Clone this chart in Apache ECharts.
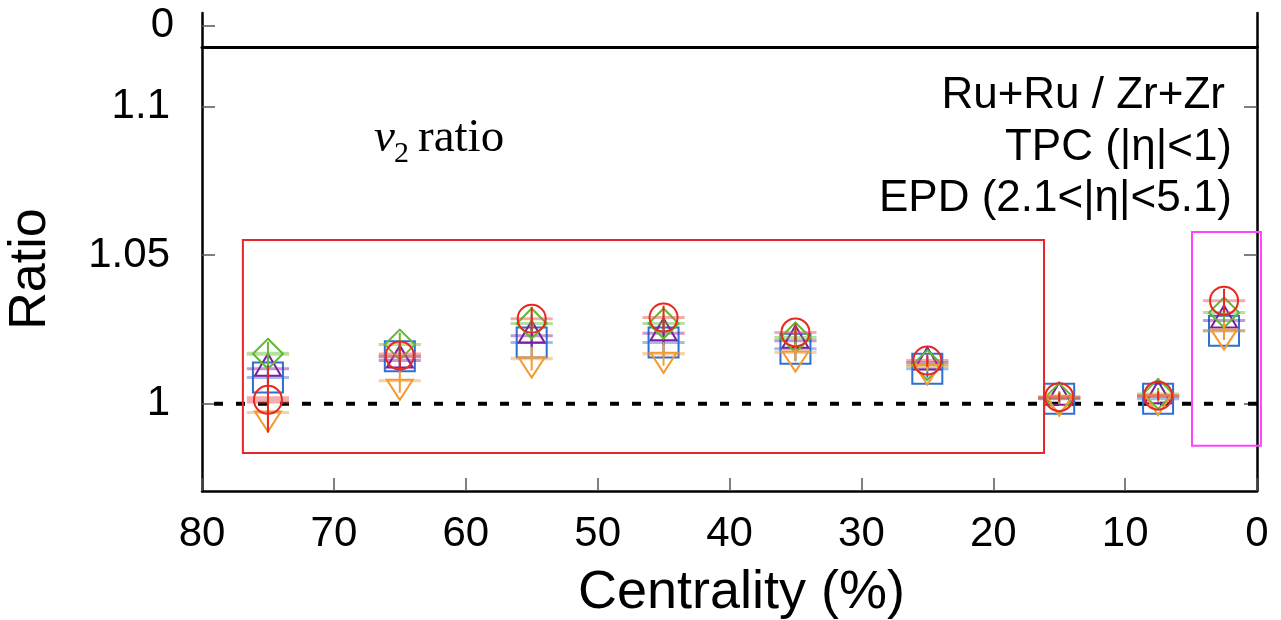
<!DOCTYPE html>
<html><head><meta charset="utf-8">
<script src="https://cdn.jsdelivr.net/npm/echarts@6/dist/echarts.min.js"></script>
<style>html,body{margin:0;padding:0;background:#fff}#c{width:1281px;height:620px}</style>
</head><body><div id="c"></div>
<script>
// ---- data ----
const centrality = [75, 65, 55, 45, 35, 25, 15, 7.5, 2.5];
const xTickValues = [80, 70, 60, 50, 40, 30, 20, 10, 0];
const yTickValues = [1, 1.05, 1.1];
const upperTickValues = [0];

const blueVals   = [1.0088, 1.0160, 1.0206, 1.0206, 1.0185, 1.0118, 1.0017, 1.0017, 1.0246];
const blueErr    = [0.0060, 0.0050, 0.0050, 0.0050, 0.0040, 0.0030, 0.0020, 0.0020, 0.0030];
const blueSys    = [0.0004, 0.0004, 0.0004, 0.0004, 0.0004, 0.0004, 0.0004, 0.0004, 0.0004];

const purpleVals = [1.0118, 1.0145, 1.0229, 1.0237, 1.0212, 1.0139, 1.0020, 1.0025, 1.0280];
const purpleErr  = [0.0050, 0.0040, 0.0040, 0.0040, 0.0030, 0.0020, 0.0020, 0.0020, 0.0030];
const purpleSys  = [0.0004, 0.0004, 0.0004, 0.0004, 0.0004, 0.0004, 0.0004, 0.0004, 0.0004];

const greenVals  = [1.0168, 1.0199, 1.0270, 1.0270, 1.0223, 1.0130, 1.0018, 1.0033, 1.0307];
const greenErr   = [0.0040, 0.0040, 0.0030, 0.0030, 0.0030, 0.0020, 0.0020, 0.0020, 0.0030];
const greenSys   = [0.0007, 0.0005, 0.0005, 0.0005, 0.0005, 0.0005, 0.0005, 0.0005, 0.0005];

const orangeVals = [0.9970, 1.0077, 1.0152, 1.0168, 1.0172, 1.0128, 1.0023, 1.0025, 1.0246];
const orangeErr  = [0.0040, 0.0040, 0.0040, 0.0040, 0.0030, 0.0020, 0.0020, 0.0020, 0.0030];
const orangeSys  = [0.0004, 0.0004, 0.0006, 0.0006, 0.0005, 0.0004, 0.0004, 0.0004, 0.0005];

const redVals    = [1.0013, 1.0162, 1.0286, 1.0290, 1.0240, 1.0145, 1.0022, 1.0027, 1.0347];
const redErr     = [0.0110, 0.0050, 0.0040, 0.0040, 0.0030, 0.0020, 0.0015, 0.0015, 0.0040];
const redSys     = [0.0012, 0.0010, 0.0005, 0.0005, 0.0005, 0.0004, 0.0004, 0.0004, 0.0005];

const refLine = [[0, 1], [80, 1]];
// annotation boxes: [xLeft, yTop, xRight, yBottom] in data units
const redBox = [[76.9, 1.0551, 16.15, 0.9834]];
const magentaBox = [[4.93, 1.0578, -0.3, 0.9858]];

const sysHalfWidth = 1.6;

// ---- rendering ----
function pts(vals, errs, syss) {
  return centrality.map((c, i) => [c, vals[i], errs[i], syss[i]]);
}

function markerShape(shape, cx, cy) {
  switch (shape) {
    case 'square': return {type: 'rect', shape: {x: cx - 15, y: cy - 15, width: 30, height: 30}};
    case 'circle': return {type: 'circle', shape: {cx: cx, cy: cy, r: 14}};
    case 'tri': return {type: 'polygon', shape: {points: [[cx, cy - 15], [cx + 13, cy + 7], [cx - 13, cy + 7]]}};
    case 'diamond': return {type: 'polygon', shape: {points: [[cx, cy - 15], [cx + 15, cy], [cx, cy + 15], [cx - 15, cy]]}};
    case 'itri': return {type: 'polygon', shape: {points: [[cx - 13, cy - 1], [cx + 13, cy - 1], [cx, cy + 19]]}};
  }
}

function makeRender(shape, color, fill) {
  return function (params, api) {
    const x = api.value(0), y = api.value(1), e = api.value(2), s = api.value(3);
    const c = api.coord([x, y]);
    const t = api.coord([x, y + e]);
    const b = api.coord([x, y - e]);
    const l = api.coord([x + sysHalfWidth, y + s]);
    const r = api.coord([x - sysHalfWidth, y - s]);
    const h = Math.max(Math.abs(r[1] - l[1]), 3);
    const m = markerShape(shape, c[0], c[1]);
    m.style = {fill: 'none', stroke: color, lineWidth: 2};
    return {
      type: 'group',
      children: [
        {type: 'rect', shape: {x: Math.min(l[0], r[0]), y: c[1] - h / 2, width: Math.abs(r[0] - l[0]), height: h},
         style: {fill: fill}},
        {type: 'line', shape: {x1: c[0], y1: t[1], x2: c[0], y2: b[1]}, style: {stroke: color, lineWidth: 2}},
        m
      ]
    };
  };
}

function boxRender(color) {
  return function (params, api) {
    const p1 = api.coord([api.value(0), api.value(1)]);
    const p2 = api.coord([api.value(2), api.value(3)]);
    return {type: 'rect', shape: {x: Math.min(p1[0], p2[0]), y: Math.min(p1[1], p2[1]),
      width: Math.abs(p2[0] - p1[0]), height: Math.abs(p2[1] - p1[1])},
      style: {fill: 'none', stroke: color, lineWidth: 2}};
  };
}

const FONT = "'Liberation Sans', Arial, Helvetica, sans-serif";
const SERIF = "'Liberation Serif', 'Times New Roman', serif";
const tickFont = 42;
const lineAx = {show: true, onZero: false, lineStyle: {color: '#000', width: 2.5}};

const chart = echarts.init(document.getElementById('c'), null, {renderer: 'canvas'});
chart.setOption({
  backgroundColor: '#fff',
  animation: false,
  grid: [
    {left: 202, top: 47, width: 1055, height: 444, containLabel: false, outerBoundsMode: 'none'},
    {left: 202, top: 13, width: 1055, height: 34, containLabel: false, outerBoundsMode: 'none'}
  ],
  xAxis: [
    {type: 'value', gridIndex: 0, min: 0, max: 80, interval: 10, inverse: true, position: 'bottom',
     axisLine: lineAx,
     axisTick: {show: true, inside: true, length: 13, lineStyle: {color: '#555', width: 1.5}},
     axisLabel: {show: true, margin: 22, fontSize: tickFont, color: '#000', fontFamily: FONT},
     splitLine: {show: false},
     name: 'Centrality (%)', nameLocation: 'middle', nameGap: 75,
     nameTextStyle: {fontSize: 54, color: '#000', fontFamily: FONT, padding: [0, 0, 0, 24]}},
    {type: 'value', gridIndex: 1, min: 0, max: 80, inverse: true, position: 'bottom',
     axisLine: {show: true, onZero: false, lineStyle: {color: '#000', width: 3}},
     axisTick: {show: false}, axisLabel: {show: false}, splitLine: {show: false}}
  ],
  yAxis: [
    {type: 'value', gridIndex: 0, min: 0.9706, max: 1.1201, position: 'left',
     axisLine: lineAx,
     axisTick: {show: true, inside: true, length: 13, customValues: yTickValues, lineStyle: {color: '#555', width: 1.5}},
     axisLabel: {show: true, customValues: yTickValues, margin: 32, fontSize: tickFont, color: '#000', fontFamily: FONT,
       formatter: v => String(+(+v).toFixed(2))},
     splitLine: {show: false},
     name: 'Ratio', nameLocation: 'middle', nameGap: 145,
     nameTextStyle: {fontSize: 52, color: '#000', fontFamily: FONT}},
    {type: 'value', gridIndex: 0, min: 0.9706, max: 1.1201, position: 'right',
     axisLine: lineAx,
     axisTick: {show: true, inside: true, length: 13, customValues: yTickValues, lineStyle: {color: '#555', width: 1.5}},
     axisLabel: {show: false}, splitLine: {show: false}},
    {type: 'value', gridIndex: 1, min: -1, max: 0.6, position: 'left',
     axisLine: lineAx,
     axisTick: {show: true, inside: true, length: 13, customValues: upperTickValues, lineStyle: {color: '#555', width: 1.5}},
     axisLabel: {show: true, customValues: upperTickValues, margin: 28, fontSize: tickFont, color: '#000', fontFamily: FONT},
     splitLine: {show: false}},
    {type: 'value', gridIndex: 1, min: -1, max: 0.6, position: 'right',
     axisLine: lineAx,
     axisTick: {show: false}, axisLabel: {show: false}, splitLine: {show: false}}
  ],
  series: [
    {type: 'line', xAxisIndex: 0, yAxisIndex: 0, data: refLine, symbol: 'none', z: 1,
     lineStyle: {color: '#000', width: 4, type: [9, 13]}},
    {type: 'custom', name: 'blue', xAxisIndex: 0, yAxisIndex: 0, z: 2,
     renderItem: makeRender('square', '#2f6fd0', 'rgba(47,111,208,0.45)'), data: pts(blueVals, blueErr, blueSys)},
    {type: 'custom', name: 'purple', xAxisIndex: 0, yAxisIndex: 0, z: 3,
     renderItem: makeRender('tri', '#7a1fa0', 'rgba(122,31,160,0.45)'), data: pts(purpleVals, purpleErr, purpleSys)},
    {type: 'custom', name: 'green', xAxisIndex: 0, yAxisIndex: 0, z: 4,
     renderItem: makeRender('diamond', '#62b832', 'rgba(98,184,50,0.45)'), data: pts(greenVals, greenErr, greenSys)},
    {type: 'custom', name: 'orange', xAxisIndex: 0, yAxisIndex: 0, z: 5,
     renderItem: makeRender('itri', '#f39a32', 'rgba(243,154,50,0.45)'), data: pts(orangeVals, orangeErr, orangeSys)},
    {type: 'custom', name: 'red', xAxisIndex: 0, yAxisIndex: 0, z: 6,
     renderItem: makeRender('circle', '#e8281e', 'rgba(240,90,90,0.5)'), data: pts(redVals, redErr, redSys)},
    {type: 'custom', name: 'redBox', xAxisIndex: 0, yAxisIndex: 0, z: 7, clip: false,
     renderItem: boxRender('#e8252a'), data: redBox},
    {type: 'custom', name: 'magentaBox', xAxisIndex: 0, yAxisIndex: 0, z: 7, clip: false,
     renderItem: boxRender('#ff44ff'), data: magentaBox}
  ],
  graphic: [
    {type: 'text', right: 1281 - 1225, top: 74, style: {text: 'Ru+Ru / Zr+Zr', font: '44px ' + FONT, fill: '#000'}},
    {type: 'text', right: 1281 - 1232, top: 126, style: {text: 'TPC (|η|<1)', font: '44px ' + FONT, fill: '#000'}},
    {type: 'text', right: 1281 - 1232, top: 177, style: {text: 'EPD (2.1<|η|<5.1)', font: '44px ' + FONT, fill: '#000'}},
    {type: 'text', x: 374, y: 139, style: {text: 'v', font: 'italic 47px ' + SERIF, fill: '#000', verticalAlign: 'middle'}},
    {type: 'text', x: 394, y: 154, style: {text: '2', font: '30px ' + SERIF, fill: '#000', verticalAlign: 'middle'}},
    {type: 'text', x: 418, y: 139, style: {text: 'ratio', font: '47px ' + SERIF, fill: '#000', verticalAlign: 'middle'}}
  ]
});
</script>
</body></html>
